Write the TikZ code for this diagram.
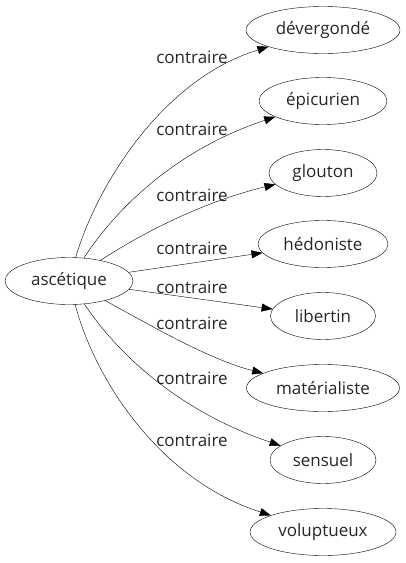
\documentclass[tikz,border=0pt]{standalone}
\usepackage{fontspec}
\setmainfont{Open Sans}
\usetikzlibrary{shapes.geometric,arrows.meta}
\begin{document}
\begin{tikzpicture}[x=1pt,y=-1pt,
  word/.style={draw,ellipse,inner sep=0pt,minimum height=47pt,font=\fontsize{17}{19}\selectfont,text=black!85},
  lab/.style={font=\fontsize{17}{19}\selectfont,text=black!85,inner sep=0pt},
  rel/.style={-{Triangle[length=11pt,width=8pt]},thin}]
\useasboundingbox (0,0) rectangle (405,563);
\node[word,minimum width=128pt] (asc) at (69,281) {ascétique};
\node[word,minimum width=154pt] (n1) at (323,30) {dévergondé};
\node[word,minimum width=128pt] (n2) at (323,101) {épicurien};
\node[word,minimum width=108pt] (n3) at (323,173) {glouton};
\node[word,minimum width=130pt] (n4) at (323,244) {hédoniste};
\node[word,minimum width=105pt] (n5) at (323,316) {libertin};
\node[word,minimum width=153pt] (n6) at (323,388) {matérialiste};
\node[word,minimum width=106pt] (n7) at (323,460) {sensuel};
\node[word,minimum width=146pt] (n8) at (323,532) {voluptueux};
\node[lab] (l1) at (192,57) {contraire};
\node[lab] (l2) at (192,129) {contraire};
\node[lab] (l3) at (192,195) {contraire};
\node[lab] (l4) at (192,248) {contraire};
\node[lab] (l5) at (192,287) {contraire};
\node[lab] (l6) at (192,323) {contraire};
\node[lab] (l7) at (192,378) {contraire};
\node[lab] (l8) at (192,440) {contraire};
\draw[rel] (asc) .. controls (95,190) and (160,80) .. (n1);
\draw[rel] (asc) .. controls (115,210) and (175,150) .. (n2);
\draw[rel] (asc) .. controls (150,228) and (210,200) .. (n3);
\draw[rel] (asc) -- (n4);
\draw[rel] (asc) -- (n5);
\draw[rel] (asc) .. controls (150,325) and (210,360) .. (n6);
\draw[rel] (asc) .. controls (115,350) and (175,410) .. (n7);
\draw[rel] (asc) .. controls (95,380) and (160,480) .. (n8);
\end{tikzpicture}
\end{document}
